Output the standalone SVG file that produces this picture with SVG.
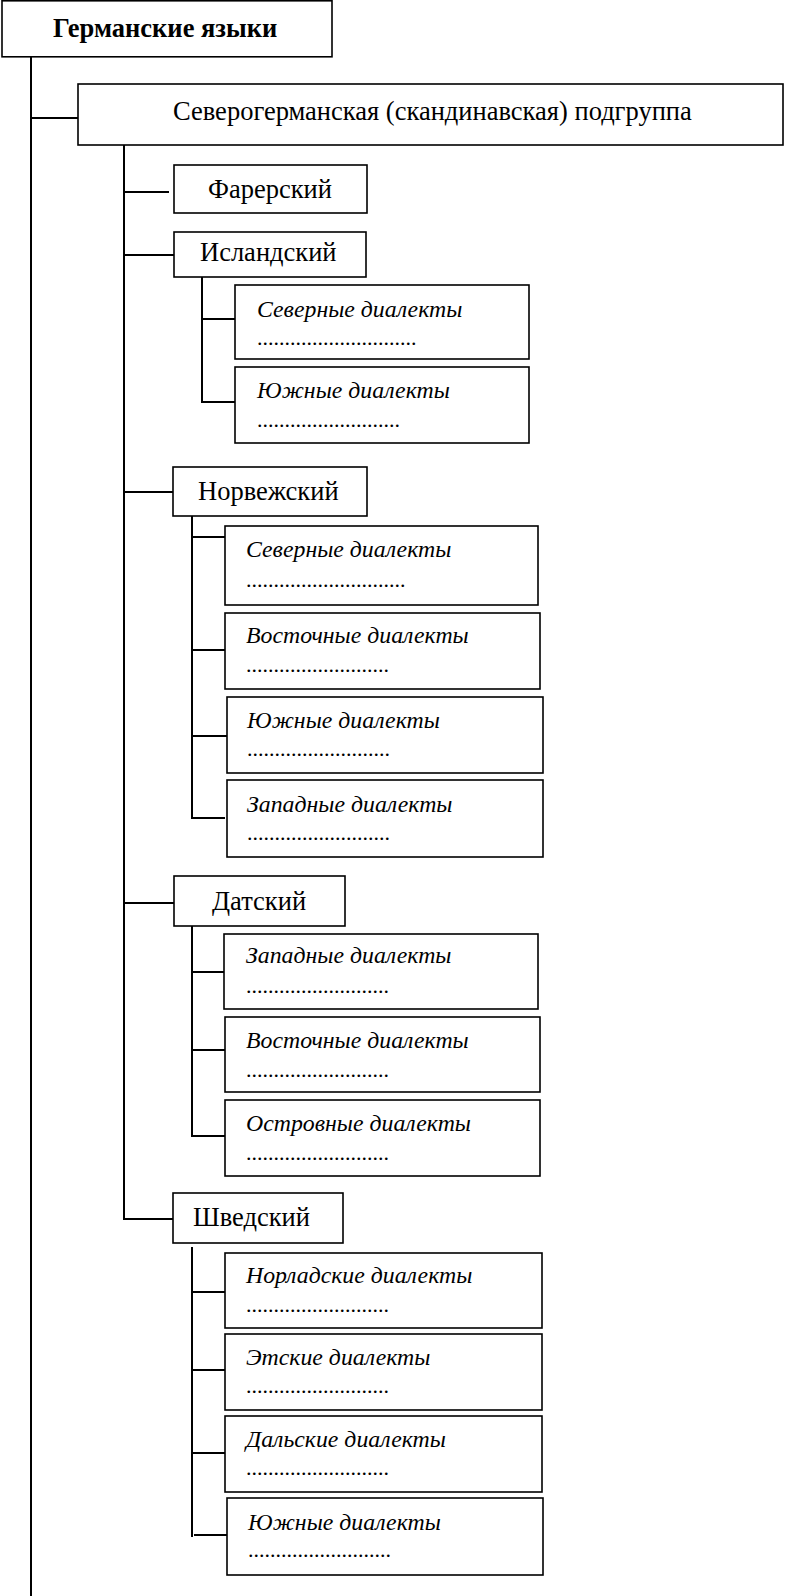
<svg xmlns="http://www.w3.org/2000/svg" width="788" height="1596" viewBox="0 0 788 1596">
<style>
.box{fill:#fff;stroke:#000;stroke-width:1.6}
.t{font-family:"Liberation Serif","Times New Roman",serif;font-size:26.5px;fill:#000}
.b{font-weight:bold}
.i{font-family:"Liberation Serif","Times New Roman",serif;font-size:23.8px;font-style:italic;fill:#000}
.d{font-family:"Liberation Serif","Times New Roman",serif;font-size:22px;fill:#000}
.c{fill:none;stroke:#000;stroke-width:2}
</style>
<rect width="788" height="1596" fill="#fff"/>
<g id="connectors">
<path class="c" d="M31,57 V1596 M31,118 H78"/>
<path class="c" d="M124,145 V1219 H173 M124,192 H169 M124,255 H174 M124,492 H173 M124,903 H174"/>
<path class="c" d="M202,277 V402 H235 M202,319 H235"/>
<path class="c" d="M192,516 V818 H225 M192,537 H225 M192,650 H225 M192,736 H227"/>
<path class="c" d="M192,926 V1136 H225 M192,972 H224 M192,1050 H225"/>
<path class="c" d="M192,1247 V1537 M194,1535 H227 M192,1292 H225 M192,1370 H225 M192,1453 H225"/>
</g>
<g id="n-root"><rect class="box" x="2" y="0.8" width="330" height="56"/><text class="t b" x="53" y="37">Германские языки</text></g>
<g id="n-north"><rect class="box" x="78" y="84" width="705" height="61"/><text class="t" x="173" y="120">Северогерманская (скандинавская) подгруппа</text></g>
<g id="n-far"><rect class="box" x="174" y="165" width="193" height="48"/><text class="t" x="208" y="198">Фарерский</text></g>
<g id="n-isl"><rect class="box" x="174" y="232" width="192" height="45"/><text class="t" x="200" y="261">Исландский</text></g>
<g id="n-isl-n"><rect class="box" x="235" y="285" width="294" height="74"/><text class="i" x="257" y="317">Северные диалекты</text><text class="d" x="257" y="345">.............................</text></g>
<g id="n-isl-s"><rect class="box" x="235" y="367" width="294" height="76"/><text class="i" x="257" y="398">Южные диалекты</text><text class="d" x="257" y="427">..........................</text></g>
<g id="n-nor"><rect class="box" x="173" y="467" width="194" height="49"/><text class="t" x="198" y="500">Норвежский</text></g>
<g id="n-nor-n"><rect class="box" x="225" y="526" width="313" height="79"/><text class="i" x="246" y="557">Северные диалекты</text><text class="d" x="246" y="587">.............................</text></g>
<g id="n-nor-e"><rect class="box" x="225" y="613" width="315" height="76"/><text class="i" x="246" y="643">Восточные диалекты</text><text class="d" x="246" y="672">..........................</text></g>
<g id="n-nor-s"><rect class="box" x="227" y="697" width="316" height="76"/><text class="i" x="247" y="728">Южные диалекты</text><text class="d" x="247" y="756">..........................</text></g>
<g id="n-nor-w"><rect class="box" x="227" y="780" width="316" height="77"/><text class="i" x="247" y="812">Западные диалекты</text><text class="d" x="247" y="840">..........................</text></g>
<g id="n-dan"><rect class="box" x="174" y="876" width="171" height="50"/><text class="t" x="212" y="910">Датский</text></g>
<g id="n-dan-w"><rect class="box" x="224" y="934" width="314" height="75"/><text class="i" x="246" y="963">Западные диалекты</text><text class="d" x="246" y="993">..........................</text></g>
<g id="n-dan-e"><rect class="box" x="225" y="1017" width="315" height="75"/><text class="i" x="246" y="1048">Восточные диалекты</text><text class="d" x="246" y="1077">..........................</text></g>
<g id="n-dan-i"><rect class="box" x="225" y="1100" width="315" height="76"/><text class="i" x="246" y="1131">Островные диалекты</text><text class="d" x="246" y="1160">..........................</text></g>
<g id="n-swe"><rect class="box" x="173" y="1193" width="170" height="50"/><text class="t" x="193" y="1226">Шведский</text></g>
<g id="n-swe-n"><rect class="box" x="225" y="1253" width="317" height="75"/><text class="i" x="246" y="1283">Норладские диалекты</text><text class="d" x="246" y="1312">..........................</text></g>
<g id="n-swe-e"><rect class="box" x="225" y="1334" width="317" height="76"/><text class="i" x="246" y="1365">Этские диалекты</text><text class="d" x="246" y="1393">..........................</text></g>
<g id="n-swe-d"><rect class="box" x="225" y="1416" width="317" height="76"/><text class="i" x="246" y="1447">Дальские диалекты</text><text class="d" x="246" y="1475">..........................</text></g>
<g id="n-swe-s"><rect class="box" x="227" y="1498" width="316" height="77"/><text class="i" x="248" y="1530">Южные диалекты</text><text class="d" x="248" y="1557">..........................</text></g>
</svg>
